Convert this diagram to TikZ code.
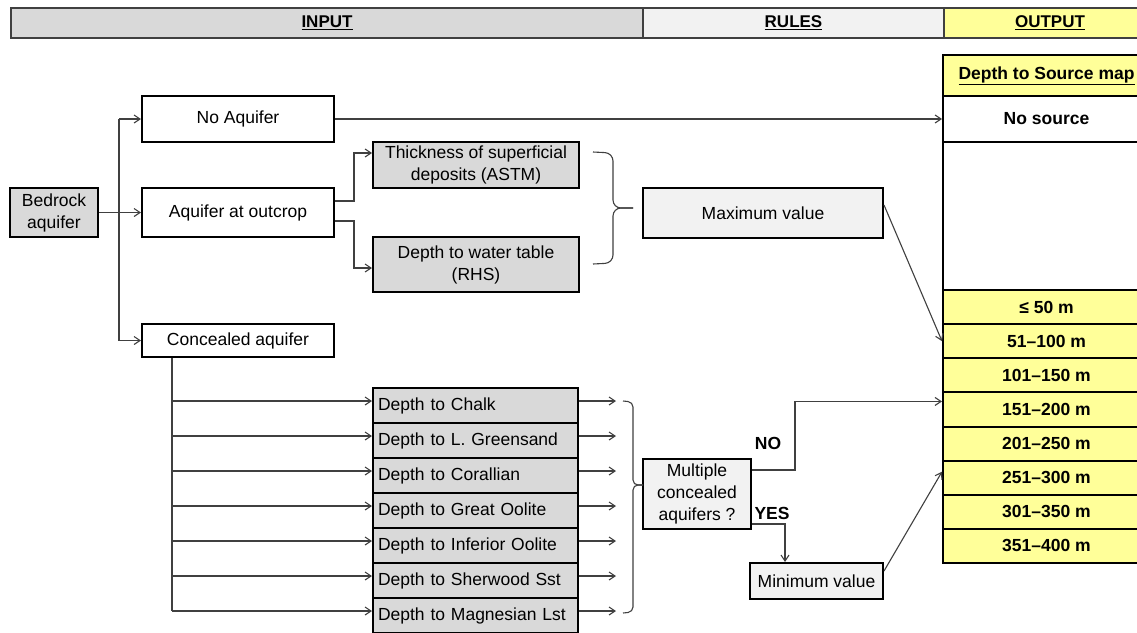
\documentclass[tikz,border=0pt]{standalone}
\usepackage{fontspec}
\setmainfont{Liberation Sans}
\usetikzlibrary{arrows.meta,calc}
\definecolor{boxgray}{HTML}{D9D9D9}
\definecolor{rulegray}{HTML}{F2F2F2}
\definecolor{outyellow}{HTML}{FFFF99}
\definecolor{linegray}{HTML}{404040}
\tikzset{
  conn/.style={draw=linegray, line width=1.1pt},
  arr/.style={-{Straight Barb[length=6pt,width=8pt]}},
  box/.style={draw=black, line width=2pt, inner sep=0pt, align=center},
  gbox/.style={box, fill=boxgray},
  rbox/.style={box, fill=rulegray},
  wbox/.style={box, fill=white},
  ybox/.style={box, fill=outyellow, font=\fontsize{17.5pt}{21pt}\selectfont\bfseries},
  dbox/.style={gbox, minimum width=205pt, minimum height=35pt, text width=195pt, inner xsep=5pt, align=left},
  hdr/.style={draw=linegray, line width=1.5pt, minimum height=30pt, inner sep=0pt, font=\fontsize{17pt}{20pt}\selectfont\bfseries},
  brc/.style={draw=linegray, line width=1.1pt, rounded corners=#1},
  lbl/.style={font=\fontsize{17.5pt}{21pt}\selectfont\bfseries, inner sep=0pt},
}
\begin{document}
\begin{tikzpicture}[x=1pt,y=-1pt, every node/.style={font=\fontsize{17.5pt}{22pt}\selectfont, inner sep=0pt}]
\clip (0,0) rectangle (1137,632);
\fill[white] (0,0) rectangle (1137,632);

% header bar
\node[hdr, fill=boxgray, minimum width=632pt] (hin) at (327,23) {\underline{INPUT}};
\node[hdr, fill=rulegray, minimum width=301pt] (hru) at (793.5,23) {\underline{RULES}};
\node[hdr, fill=outyellow, minimum width=212pt] (hout) at (1050,23) {\underline{OUTPUT}};

% input column
\node[gbox, minimum width=88pt, minimum height=49pt] (bedrock) at (54,212.5) {Bedrock\\aquifer};
\node[wbox, minimum width=192pt, minimum height=46pt] (noaq) at (238,119) {No Aquifer};
\node[wbox, minimum width=192pt, minimum height=49pt] (outcrop) at (238,212.5) {Aquifer at outcrop};
\node[wbox, minimum width=192pt, minimum height=33pt] (conc) at (238,340.5) {Concealed aquifer};

\node[gbox, minimum width=206pt, minimum height=46pt] (thick) at (476,165) {Thickness of superficial\\deposits (ASTM)};
\node[gbox, minimum width=206pt, minimum height=55pt] (water) at (476,264.5) {Depth to water table\\(RHS)};

\node[dbox] (d1) at (475.5,405.5) {Depth to Chalk};
\node[dbox] (d2) at (475.5,440.5) {Depth to L. Greensand};
\node[dbox] (d3) at (475.5,475.5) {Depth to Corallian};
\node[dbox] (d4) at (475.5,510.5) {Depth to Great Oolite};
\node[dbox] (d5) at (475.5,545.5) {Depth to Inferior Oolite};
\node[dbox] (d6) at (475.5,580.5) {Depth to Sherwood Sst};
\node[dbox] (d7) at (475.5,615.5) {Depth to Magnesian Lst};

% rules column
\node[rbox, minimum width=240pt, minimum height=50pt] (maxv) at (763,213) {Maximum value};
\node[rbox, minimum width=108pt, minimum height=70pt] (multi) at (697,494) {Multiple\\concealed\\aquifers ?};
\node[rbox, minimum width=133pt, minimum height=36pt] (minv) at (816.5,581) {Minimum value};

% output column
\node[ybox, minimum width=207pt, minimum height=41pt] (ohdr) at (1046.5,75.5) {\underline{Depth to Source map}};
\node[wbox, minimum width=207pt, minimum height=46pt, font=\fontsize{17.5pt}{21pt}\selectfont\bfseries] (nosrc) at (1046.5,119) {No source};
\node[wbox, minimum width=207pt, minimum height=148pt] (blank) at (1046.5,216) {};
\node[ybox, minimum width=207pt, minimum height=34.125pt] (r1) at (1046.5,307.06) {≤ 50 m};
\node[ybox, minimum width=207pt, minimum height=34.125pt] (r2) at (1046.5,341.19) {51–100 m};
\node[ybox, minimum width=207pt, minimum height=34.125pt] (r3) at (1046.5,375.31) {101–150 m};
\node[ybox, minimum width=207pt, minimum height=34.125pt] (r4) at (1046.5,409.44) {151–200 m};
\node[ybox, minimum width=207pt, minimum height=34.125pt] (r5) at (1046.5,443.56) {201–250 m};
\node[ybox, minimum width=207pt, minimum height=34.125pt] (r6) at (1046.5,477.69) {251–300 m};
\node[ybox, minimum width=207pt, minimum height=34.125pt] (r7) at (1046.5,511.81) {301–350 m};
\node[ybox, minimum width=207pt, minimum height=34.125pt] (r8) at (1046.5,545.94) {351–400 m};

% connectors: bedrock tree
\coordinate (tk) at (119,0);
\draw[conn, arr] (bedrock.east) -- (outcrop.west);
\draw[conn] (tk |- noaq.west) -- (tk |- conc.west);
\draw[conn, arr] (tk |- noaq.west) -- (noaq.west);
\draw[conn, arr] (tk |- conc.west) -- (conc.west);

\draw[conn, arr] ([yshift=11.5pt]outcrop.east) -- ++(19,0) |- ([yshift=12pt]thick.west);
\draw[conn, arr] ([yshift=-8.5pt]outcrop.east) -- ++(19,0) |- ([yshift=-3.5pt]water.west);

\draw[conn, arr] (noaq.east) -- (nosrc.west);

% concealed tree
\coordinate (ct) at (172,0);
\draw[conn] (ct |- conc.south) -- ($(ct |- d7.west)+(0,-4.5)$);
\foreach \d in {d1,d2,d3,d4,d5,d6,d7}{
  \draw[conn, arr] ($(ct |- \d.west)+(0,-4.5)$) -- ([yshift=4.5pt]\d.west);
  \draw[conn, arr] ([yshift=4.5pt]\d.east) -- ++(37,0);
}

% braces
\draw[brc=8pt] (593,152) -- (613,153) -- (613,208) -- (633,208);
\draw[brc=8pt] (633,208) -- (613,208) -- (613,263) -- (593,264);
\draw[brc=5pt] (623,401) -- (633,402) -- (633,485) -- (643,485);
\draw[brc=5pt] (643,485) -- (633,485) -- (633,612) -- (623,613);

% rules connectors
\draw[conn, arr] ([yshift=8pt]maxv.east) -- (r2.west);
\draw[conn, arr] ([yshift=24pt]multi.east) -- ++(43,0) |- ([yshift=8pt]r4.west);
\draw[conn, arr] ([yshift=-30pt]multi.east) -| ([xshift=-31.5pt]minv.north);
\draw[conn, arr] ([yshift=10pt]minv.east) -- ([yshift=6pt]r6.west);

\node[lbl] (no) at (768,443) {NO};
\node[lbl] (yes) at (772,513) {YES};
\end{tikzpicture}
\end{document}
